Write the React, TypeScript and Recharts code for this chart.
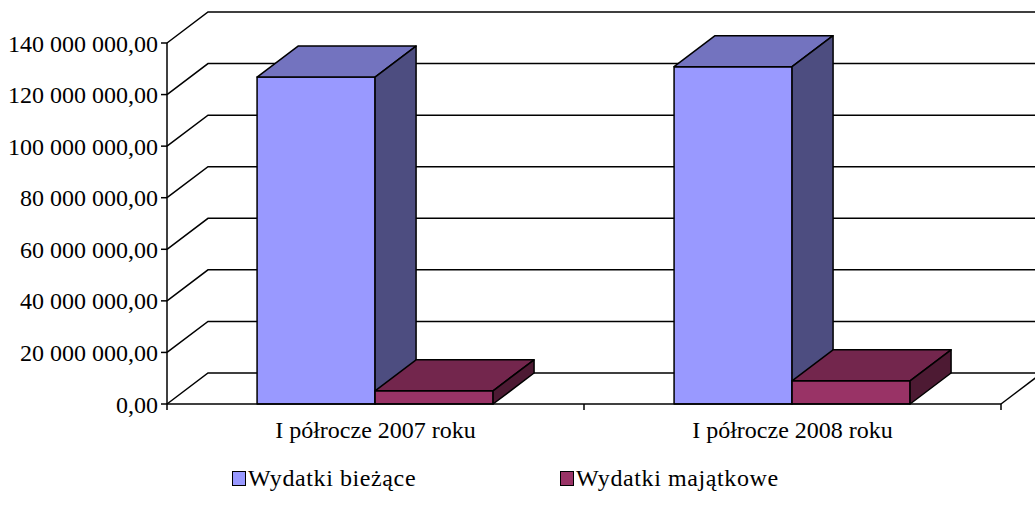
import React from 'react';
import { BarChart, Bar, XAxis, YAxis, CartesianGrid } from 'recharts';

const categories = ['I półrocze 2007 roku', 'I półrocze 2008 roku'];
const wydatkiBiezace = [126800000, 130800000];
const wydatkiMajatkowe = [5100000, 9000000];
const yTicks = [0, 20000000, 40000000, 60000000, 80000000, 100000000, 120000000, 140000000];

const data = categories.map((name, i) => ({
  name,
  biezace: wydatkiBiezace[i],
  majatkowe: wydatkiMajatkowe[i],
}));

const W = 1035;
const H = 516;
const X_AXIS_H = 30;
// plot area: x 167..1001, y 43..404
const M = { top: 43, right: 34, left: 0, bottom: 112 - X_AXIS_H };
const DX = 41;
const DY = -31;
const FLOOR_Y = 404;
const FONT = '"Liberation Serif", serif';

const blue = { front: '#9999ff', top: '#7373bf', side: '#4d4d80' };
const plum = { front: '#993366', top: '#73264d', side: '#4d1a33' };

const fmtPl = (v: number) =>
  Math.round(v).toString().replace(/\B(?=(\d{3})+(?!\d))/g, ' ') + ',00';

// 3D box: front face + top + right side
const Box = (c: { front: string; top: string; side: string }) => (props: any) => {
  const { x, y, width: w, height: h } = props;
  if (w == null || h == null) return null;
  const s = { stroke: '#000', strokeWidth: 1.5, strokeLinejoin: 'round' as const };
  return (
    <g>
      <rect x={x} y={y} width={w} height={h} fill={c.front} {...s} />
      <polygon
        points={`${x},${y} ${x + DX},${y + DY} ${x + w + DX},${y + DY} ${x + w},${y}`}
        fill={c.top}
        {...s}
      />
      <polygon
        points={`${x + w},${y} ${x + w + DX},${y + DY} ${x + w + DX},${y + h + DY} ${x + w},${y + h}`}
        fill={c.side}
        {...s}
      />
    </g>
  );
};

// grid line folded over the left wall and back wall
const wallLine = (p: any) => {
  const { x1, y1, x2 } = p;
  const floor = Math.abs(y1 - FLOOR_Y) < 1;
  const n = categories.length;
  return (
    <g key={`g-${y1}`}>
      <polyline
        points={`${x1},${y1} ${x1 + DX},${y1 + DY} ${x2 + DX},${y1 + DY}`}
        fill="none"
        stroke="#000"
        strokeWidth={1.5}
      />
      {floor && (
        <line x1={x2} y1={y1} x2={x2 + DX} y2={y1 + DY} stroke="#000" strokeWidth={1.5} />
      )}
      {floor &&
        Array.from({ length: n + 1 }, (_, i) => {
          const tx = x1 + (i * (x2 - x1)) / n;
          return <line key={i} x1={tx} y1={y1} x2={tx} y2={y1 + 6} stroke="#000" strokeWidth={1.5} />;
        })}
    </g>
  );
};

const legendItems = [
  { label: 'Wydatki bieżące', color: blue.front, left: 232 },
  { label: 'Wydatki majątkowe', color: plum.front, left: 560 },
];

export default function App() {
  return (
    <div
      style={{
        position: 'absolute',
        left: 0,
        top: 0,
        width: W,
        height: H,
        background: '#fff',
        fontFamily: FONT,
      }}
    >
      <BarChart width={W} height={H} data={data} margin={M} barGap={0} barCategoryGap="21.6%">
        <CartesianGrid horizontal={wallLine} vertical={false} />
        <XAxis
          dataKey="name"
          height={X_AXIS_H}
          axisLine={{ stroke: '#000', strokeWidth: 1.5 }}
          tickLine={false}
          tickMargin={11}
          tick={{ fill: '#000', fontSize: 24, fontFamily: FONT }}
        />
        <YAxis
          width={167}
          domain={[0, 140000000]}
          ticks={yTicks}
          tickFormatter={fmtPl}
          axisLine={{ stroke: '#000', strokeWidth: 1.5 }}
          tickLine={{ stroke: '#000', strokeWidth: 1.5 }}
          tickSize={6}
          tickMargin={3}
          tick={{ fill: '#000', fontSize: 24, fontFamily: FONT }}
        />
        <Bar dataKey="biezace" shape={Box(blue)} isAnimationActive={false} />
        <Bar dataKey="majatkowe" shape={Box(plum)} isAnimationActive={false} />
      </BarChart>
      {legendItems.map((it) => (
        <div
          key={it.label}
          style={{
            position: 'absolute',
            left: it.left,
            top: 463,
            display: 'flex',
            alignItems: 'center',
            fontSize: 24,
            letterSpacing: 0.6,
            color: '#000',
            lineHeight: '30px',
          }}
        >
          <span
            style={{
              display: 'inline-block',
              width: 12,
              height: 13,
              background: it.color,
              border: '1.5px solid #000',
              marginRight: 2,
            }}
          />
          {it.label}
        </div>
      ))}
    </div>
  );
}
